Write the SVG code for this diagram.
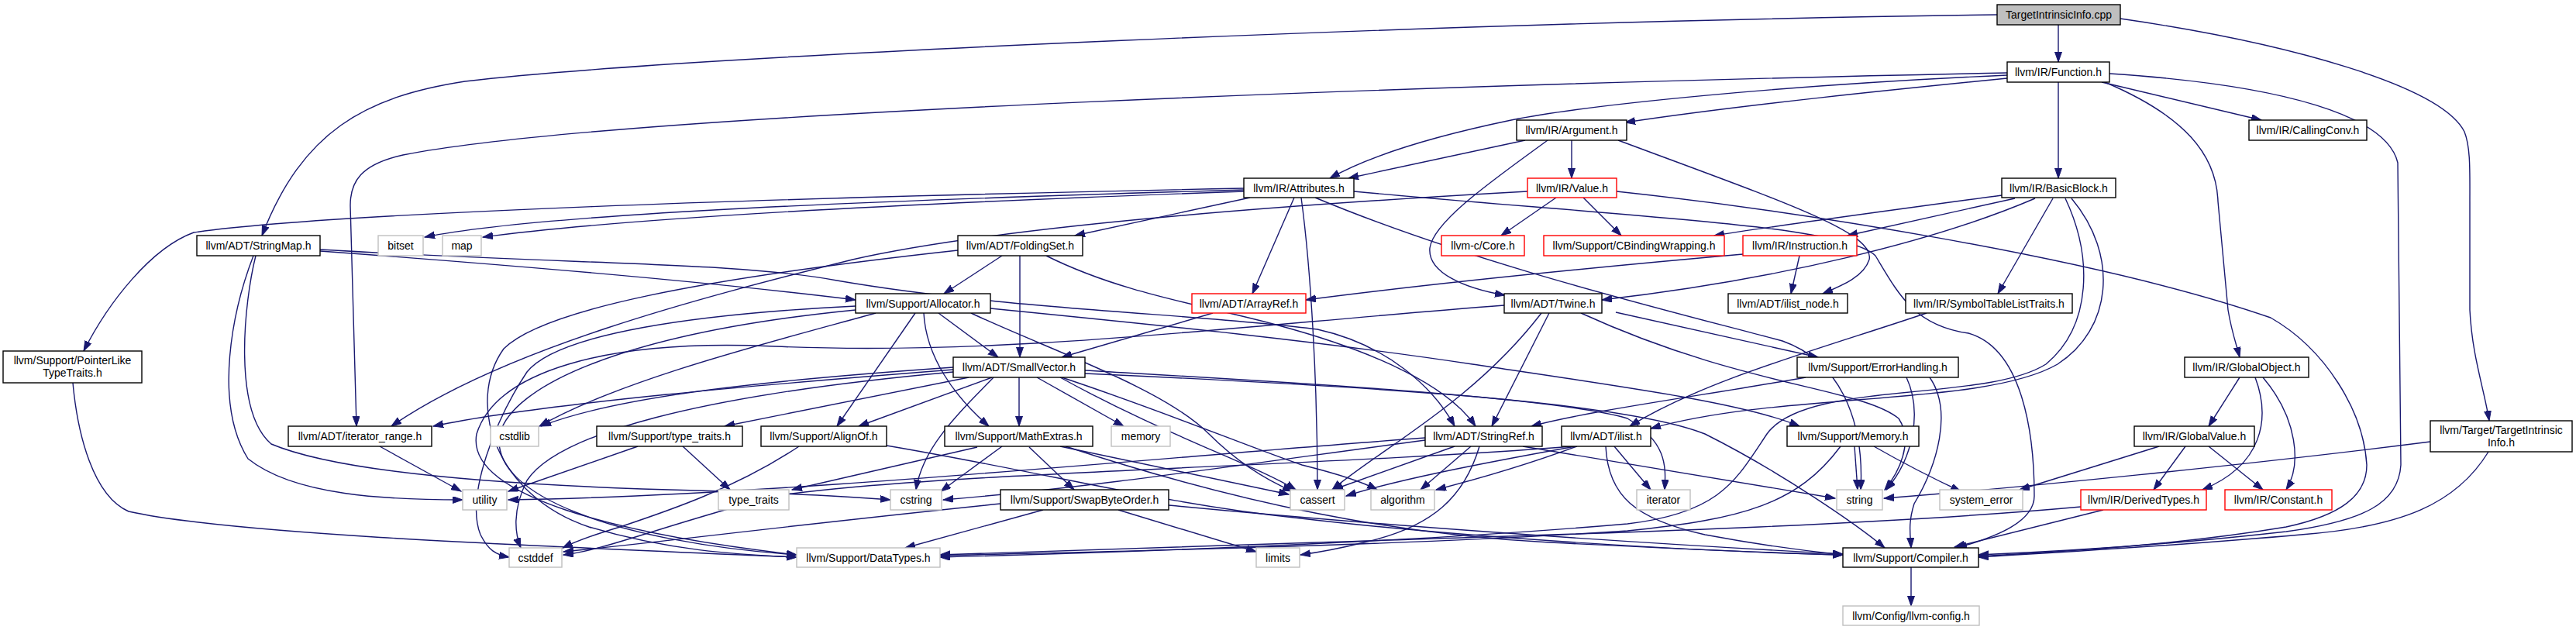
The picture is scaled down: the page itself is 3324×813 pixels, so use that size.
<svg xmlns="http://www.w3.org/2000/svg" width="3324" height="813" viewBox="0 0 3324 813">
<style>
rect{fill:#fff;stroke:#000;stroke-width:1.4}
.g rect{stroke:#bfbfbf}
.r rect{stroke:#ff0000}
.root rect{fill:#bfbfbf}
text{font-family:"Liberation Sans",Arial,sans-serif;font-size:14px;text-anchor:middle;fill:#000}
#edges path{fill:none;stroke:#191970;stroke-width:1.4;marker-end:url(#a)}
</style>
<defs>
<marker id="a" markerUnits="userSpaceOnUse" markerWidth="14" markerHeight="10" refX="13" refY="4.5" orient="auto">
<path d="M0,0 L13,4.5 L0,9 z" fill="#191970" stroke="#191970" stroke-width="1"/>
</marker>
</defs>
<rect x="0" y="0" width="3324" height="813" style="fill:#fff;stroke:none"/>
<g id="edges">
<path d="M2656,32 L2656,80"/>
<path d="M2577,19 C1900,28 900,70 600,105 C470,125 390,170 338,304"/>
<path d="M2736,24 C2950,55 3150,110 3180,170 C3188,190 3187,220 3187,260 L3187,400 C3190,460 3205,500 3212,543"/>
<path d="M2590,101 C2450,115 2250,135 2097,158"/>
<path d="M2590,97 C2300,110 2050,135 1950,155 C1830,180 1760,205 1716,230"/>
<path d="M2590,94 C1900,108 800,145 520,200 C465,212 452,235 452,265 L460,550"/>
<path d="M2656,106 L2656,230"/>
<path d="M2712,106 L2918,155"/>
<path d="M2716,106 C2820,150 2860,200 2862,260 L2875,400 C2880,430 2886,445 2890,461"/>
<path d="M2722,95 C2950,110 3080,150 3094,210 L3098,600 C3095,650 3050,672 2950,686 C2800,703 2650,712 2553,716"/>
<path d="M1968,181 L1740,230"/>
<path d="M2028,181 L2028,230"/>
<path d="M1997,181 C1930,230 1850,285 1845,320 C1842,352 1890,372 1942,381"/>
<path d="M2088,181 C2300,260 2420,300 2412,335 C2405,357 2378,368 2352,379"/>
<path d="M1605,245 C1150,258 700,275 548,306"/>
<path d="M1605,247 C1180,262 800,282 623,306"/>
<path d="M1605,243 C1000,255 420,275 250,300 C195,320 140,390 108,453"/>
<path d="M1613,255 L1387,304"/>
<path d="M1670,255 L1616,379"/>
<path d="M1679,255 C1692,350 1700,500 1700,632"/>
<path d="M1697,255 C1900,340 2150,400 2300,440 C2385,470 2405,560 2401,632"/>
<path d="M1747,247 C2100,280 2380,290 2420,330 C2450,380 2470,420 2540,430 C2610,450 2625,560 2625,640 C2625,672 2580,692 2525,707"/>
<path d="M2008,255 L1937,304"/>
<path d="M2043,255 L2092,304"/>
<path d="M1971,247 C1700,262 1300,290 1100,335 C900,385 650,450 505,550"/>
<path d="M2086,247 C2300,270 2700,330 2930,410 C3000,450 3050,530 3054,600 C3054,640 3020,665 2950,680 C2800,705 2650,712 2553,718"/>
<path d="M2583,252 C2450,270 2300,290 2212,304"/>
<path d="M2600,256 L2384,304"/>
<path d="M2626,256 C2500,310 2300,360 2067,387"/>
<path d="M2649,256 L2578,379"/>
<path d="M2665,256 C2700,330 2700,420 2640,470 C2560,520 2330,490 2280,560 C2240,620 2220,662 2100,676 C1800,702 1400,714 1213,719"/>
<path d="M2673,256 C2735,330 2725,425 2655,470 C2560,525 2300,505 2130,553"/>
<path d="M2486,404 C2350,450 2200,490 2103,550"/>
<path d="M2249,328 C2000,350 1800,372 1685,387"/>
<path d="M2322,330 L2311,379"/>
<path d="M413,324 C700,345 950,368 1104,387"/>
<path d="M413,322 C750,342 950,338 1080,362 C1300,400 1550,405 1700,425 C1790,445 1850,500 1877,550"/>
<path d="M327,330 C300,400 275,520 320,592 C380,640 500,645 597,645"/>
<path d="M330,330 C315,390 300,530 350,573 C450,615 700,628 900,633 C1000,636 1100,641 1149,645"/>
<path d="M1293,330 L1218,379"/>
<path d="M1316,330 L1316,461"/>
<path d="M1236,323 C900,360 700,400 650,450 C600,520 640,640 760,680 C860,710 950,716 1028,719"/>
<path d="M1350,330 C1450,380 1560,395 1650,420 C1780,455 1870,500 1904,550"/>
<path d="M1211,404 L1288,461"/>
<path d="M1181,404 L1080,550"/>
<path d="M1192,404 C1195,460 1230,510 1276,550"/>
<path d="M1278,398 C1500,420 1700,440 1900,470 C2100,500 2250,520 2322,550"/>
<path d="M1253,404 C1350,450 1500,500 1560,560 C1600,600 1640,622 1668,634"/>
<path d="M1130,404 C1000,440 800,490 696,550"/>
<path d="M1104,395 C900,405 720,430 680,480 C640,540 600,640 620,690 C630,710 640,716 657,719"/>
<path d="M1104,400 C800,430 660,500 645,560 C630,640 800,700 1028,716"/>
<path d="M1565,404 L1370,461"/>
<path d="M1999,404 L1925,550"/>
<path d="M1989,404 C1900,520 1780,580 1719,632"/>
<path d="M2040,404 C2250,500 2400,500 2450,540 C2470,570 2450,610 2432,632"/>
<path d="M2085,403 L2346,461"/>
<path d="M1941,394 C1600,420 1300,460 1000,447 C780,437 640,480 615,560 C600,640 800,690 1028,716"/>
<path d="M94,494 C100,560 120,640 166,660 C300,690 700,705 1028,719"/>
<path d="M1230,477 C1000,495 700,520 559,550"/>
<path d="M1230,474 C1000,490 800,510 698,550"/>
<path d="M1230,480 C900,510 720,560 680,620 C660,660 665,690 672,707"/>
<path d="M1250,487 L935,550"/>
<path d="M1280,487 L1108,550"/>
<path d="M1282,487 C1230,540 1190,580 1182,632"/>
<path d="M1315,487 L1315,550"/>
<path d="M1338,487 L1450,550"/>
<path d="M1368,487 C1500,560 1620,600 1672,632"/>
<path d="M1370,487 C1500,530 1620,580 1680,600 C1720,610 1755,620 1777,632"/>
<path d="M1400,478 C1600,490 2000,510 2100,540 C2150,570 2150,600 2148,632"/>
<path d="M1400,482 C1800,500 2100,520 2200,560 C2300,610 2400,680 2432,707"/>
<path d="M2330,487 C2200,510 2050,530 1976,550"/>
<path d="M2460,487 C2480,530 2470,590 2434,632"/>
<path d="M2490,487 C2520,530 2500,600 2470,650 C2462,675 2465,690 2466,707"/>
<path d="M2890,487 L2850,550"/>
<path d="M2910,487 C2930,540 2920,600 2842,632"/>
<path d="M2920,487 C2965,540 2970,600 2950,632"/>
<path d="M490,576 L595,634"/>
<path d="M823,576 L656,634"/>
<path d="M881,576 L942,632"/>
<path d="M1031,576 C950,630 860,660 800,680 C760,692 740,700 726,707"/>
<path d="M1144,575 C1350,610 1500,650 1670,668 C1900,695 2200,712 2378,716"/>
<path d="M1261,577 L1022,632"/>
<path d="M1293,576 L1214,634"/>
<path d="M1328,577 L1386,632"/>
<path d="M1368,576 L1663,638"/>
<path d="M1375,576 C1600,650 1800,690 2000,700 C2200,710 2300,714 2378,716"/>
<path d="M1839,565 C1500,590 1000,640 656,645"/>
<path d="M1839,568 C1600,600 1400,630 1217,645"/>
<path d="M1877,576 L1720,632"/>
<path d="M1898,576 L1833,632"/>
<path d="M1965,576 L2368,643"/>
<path d="M1909,576 C1890,640 1850,680 1760,700 C1720,710 1700,713 1678,716"/>
<path d="M2033,576 C1900,600 1800,620 1737,640"/>
<path d="M2035,576 C1970,600 1900,620 1853,632"/>
<path d="M2083,576 L2130,632"/>
<path d="M2030,576 C1700,602 1200,610 1000,640 C850,680 780,710 727,716"/>
<path d="M2072,576 C2075,640 2110,670 2200,690 C2280,705 2340,712 2378,716"/>
<path d="M2393,576 L2397,632"/>
<path d="M2418,576 C2460,600 2500,620 2530,634"/>
<path d="M2375,576 C2320,650 2250,670 2100,685 C1800,705 1400,712 1213,717"/>
<path d="M2786,576 L2606,632"/>
<path d="M2820,576 L2779,632"/>
<path d="M2850,576 L2920,632"/>
<path d="M3136,570 C2900,600 2600,630 2431,643"/>
<path d="M3211,583 C3170,650 3100,680 2969,690 C2800,705 2650,713 2553,719"/>
<path d="M1346,658 L1168,707"/>
<path d="M1443,658 L1621,712"/>
<path d="M1508,652 C1800,680 2100,700 2378,715"/>
<path d="M1291,650 C1000,680 850,700 727,712"/>
<path d="M2685,654 C2400,680 2000,690 1700,700 C1500,708 1300,712 1213,716"/>
<path d="M2714,658 L2522,706"/>
<path d="M2466,732 L2466,782"/>
</g>
<g id="n0" class="root"><rect x="2577" y="6" width="159" height="26"/><text x="2656.5" y="24">TargetIntrinsicInfo.cpp</text></g>
<g id="n1"><rect x="2590" y="80" width="132" height="26"/><text x="2656" y="98">llvm/IR/Function.h</text></g>
<g id="n2"><rect x="1957" y="155" width="142" height="26"/><text x="2028" y="173">llvm/IR/Argument.h</text></g>
<g id="n3"><rect x="2902" y="155" width="152" height="26"/><text x="2978" y="173">llvm/IR/CallingConv.h</text></g>
<g id="n4"><rect x="1605" y="230" width="142" height="25"/><text x="1676" y="248">llvm/IR/Attributes.h</text></g>
<g id="n5" class="r"><rect x="1971" y="230" width="115" height="25"/><text x="2028.5" y="248">llvm/IR/Value.h</text></g>
<g id="n6"><rect x="2583" y="230" width="147" height="25"/><text x="2656.5" y="248">llvm/IR/BasicBlock.h</text></g>
<g id="n7"><rect x="254" y="304" width="159" height="26"/><text x="333.5" y="322">llvm/ADT/StringMap.h</text></g>
<g id="n8" class="g"><rect x="488" y="304" width="58" height="26"/><text x="517" y="322">bitset</text></g>
<g id="n9" class="g"><rect x="571" y="304" width="50" height="26"/><text x="596" y="322">map</text></g>
<g id="n10"><rect x="1236" y="304" width="161" height="26"/><text x="1316.5" y="322">llvm/ADT/FoldingSet.h</text></g>
<g id="n11" class="r"><rect x="1860" y="304" width="107" height="26"/><text x="1913.5" y="322">llvm-c/Core.h</text></g>
<g id="n12" class="r"><rect x="1992" y="304" width="233" height="26"/><text x="2108.5" y="322">llvm/Support/CBindingWrapping.h</text></g>
<g id="n13" class="r"><rect x="2249" y="304" width="147" height="26"/><text x="2322.5" y="322">llvm/IR/Instruction.h</text></g>
<g id="n14"><rect x="1104" y="379" width="174" height="25"/><text x="1191" y="397">llvm/Support/Allocator.h</text></g>
<g id="n15" class="r"><rect x="1538" y="379" width="147" height="25"/><text x="1611.5" y="397">llvm/ADT/ArrayRef.h</text></g>
<g id="n16"><rect x="1941" y="379" width="126" height="25"/><text x="2004" y="397">llvm/ADT/Twine.h</text></g>
<g id="n17"><rect x="2230" y="379" width="154" height="25"/><text x="2307" y="397">llvm/ADT/ilist_node.h</text></g>
<g id="n18"><rect x="2459" y="379" width="215" height="25"/><text x="2566.5" y="397">llvm/IR/SymbolTableListTraits.h</text></g>
<g id="n19"><rect x="4" y="453" width="179" height="41"/><text x="93.5" y="470">llvm/Support/PointerLike</text><text x="93.5" y="486">TypeTraits.h</text></g>
<g id="n20"><rect x="1230" y="461" width="170" height="26"/><text x="1315" y="479">llvm/ADT/SmallVector.h</text></g>
<g id="n21"><rect x="2319" y="461" width="208" height="26"/><text x="2423" y="479">llvm/Support/ErrorHandling.h</text></g>
<g id="n22"><rect x="2819" y="461" width="160" height="26"/><text x="2899" y="479">llvm/IR/GlobalObject.h</text></g>
<g id="n23"><rect x="372" y="550" width="185" height="26"/><text x="464.5" y="568">llvm/ADT/iterator_range.h</text></g>
<g id="n24" class="g"><rect x="633" y="550" width="62" height="26"/><text x="664" y="568">cstdlib</text></g>
<g id="n25"><rect x="770" y="550" width="188" height="26"/><text x="864" y="568">llvm/Support/type_traits.h</text></g>
<g id="n26"><rect x="982" y="550" width="162" height="26"/><text x="1063" y="568">llvm/Support/AlignOf.h</text></g>
<g id="n27"><rect x="1219" y="550" width="191" height="26"/><text x="1314.5" y="568">llvm/Support/MathExtras.h</text></g>
<g id="n28" class="g"><rect x="1434" y="550" width="76" height="26"/><text x="1472" y="568">memory</text></g>
<g id="n29"><rect x="1839" y="550" width="151" height="26"/><text x="1914.5" y="568">llvm/ADT/StringRef.h</text></g>
<g id="n30"><rect x="2015" y="550" width="115" height="26"/><text x="2072.5" y="568">llvm/ADT/ilist.h</text></g>
<g id="n31"><rect x="2306" y="550" width="170" height="26"/><text x="2391" y="568">llvm/Support/Memory.h</text></g>
<g id="n32"><rect x="2754" y="550" width="155" height="26"/><text x="2831.5" y="568">llvm/IR/GlobalValue.h</text></g>
<g id="n33"><rect x="3136" y="543" width="183" height="40"/><text x="3227.5" y="560">llvm/Target/TargetIntrinsic</text><text x="3227.5" y="576">Info.h</text></g>
<g id="n34" class="g"><rect x="597" y="632" width="57" height="26"/><text x="625.5" y="650">utility</text></g>
<g id="n35" class="g"><rect x="927" y="632" width="91" height="26"/><text x="972.5" y="650">type_traits</text></g>
<g id="n36" class="g"><rect x="1149" y="632" width="66" height="26"/><text x="1182" y="650">cstring</text></g>
<g id="n37"><rect x="1291" y="632" width="217" height="26"/><text x="1399.5" y="650">llvm/Support/SwapByteOrder.h</text></g>
<g id="n38" class="g"><rect x="1665" y="632" width="70" height="26"/><text x="1700" y="650">cassert</text></g>
<g id="n39" class="g"><rect x="1769" y="632" width="82" height="26"/><text x="1810" y="650">algorithm</text></g>
<g id="n40" class="g"><rect x="2112" y="632" width="69" height="26"/><text x="2146.5" y="650">iterator</text></g>
<g id="n41" class="g"><rect x="2370" y="632" width="59" height="26"/><text x="2399.5" y="650">string</text></g>
<g id="n42" class="g"><rect x="2503" y="632" width="107" height="26"/><text x="2556.5" y="650">system_error</text></g>
<g id="n43" class="r"><rect x="2685" y="632" width="162" height="26"/><text x="2766" y="650">llvm/IR/DerivedTypes.h</text></g>
<g id="n44" class="r"><rect x="2871" y="632" width="138" height="26"/><text x="2940" y="650">llvm/IR/Constant.h</text></g>
<g id="n45" class="g"><rect x="657" y="707" width="68" height="25"/><text x="691" y="725">cstddef</text></g>
<g id="n46" class="g"><rect x="1028" y="707" width="185" height="25"/><text x="1120.5" y="725">llvm/Support/DataTypes.h</text></g>
<g id="n47" class="g"><rect x="1621" y="707" width="56" height="25"/><text x="1649" y="725">limits</text></g>
<g id="n48"><rect x="2378" y="707" width="175" height="25"/><text x="2465.5" y="725">llvm/Support/Compiler.h</text></g>
<g id="n49" class="g"><rect x="2378" y="782" width="176" height="25"/><text x="2466" y="800">llvm/Config/llvm-config.h</text></g>
</svg>
